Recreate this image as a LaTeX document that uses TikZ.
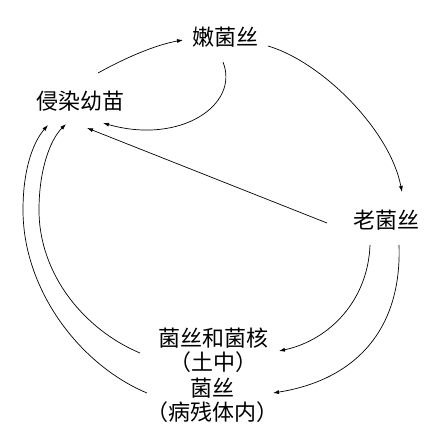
\documentclass[tikz,border=0pt]{standalone}
\usepackage{fontspec}
\newfontfamily\cjk{Noto Sans CJK SC}
\usetikzlibrary{arrows.meta,calc}
\begin{document}
\begin{tikzpicture}[x=1pt,y=-1pt,
  lbl/.style={inner sep=0pt,font=\cjk\fontsize{22}{24}\selectfont,align=center},
  conn/.style={line width=0.7pt,-{Latex[length=6pt,width=4pt]}}]
\useasboundingbox (0,0) rectangle (440,441);
\node[lbl] (qr) at (80,101) {侵染幼苗};
\node[lbl] (nj) at (225,37) {嫩菌丝};
\node[lbl] (lj) at (386,220) {老菌丝};
\node[lbl] (n1) at (213,350) {菌丝和菌核\\（土中）};
\node[lbl] (n2) at (212,400) {菌丝\\（病残体内）};
% 侵染幼苗 -> 嫩菌丝
\draw[conn] ($(qr)+(18,-28)$) .. controls (125,58) and (155,45) .. ($(nj)+(-42,3)$);
% 嫩菌丝 -> 老菌丝
\draw[conn] ($(nj)+(43,9)$) .. controls (322,62) and (390,130) .. ($(lj)+(16,-28)$);
% 嫩菌丝 -> 侵染幼苗 (loop)
\draw[conn] ($(nj)+(-2,25)$) .. controls (240,105) and (180,145) .. ($(qr)+(23,22)$);
% 老菌丝 -> 侵染幼苗
\draw[conn] ($(lj)+(-59,3)$) -- ($(qr)+(7,27)$);
% 老菌丝 -> 菌丝和菌核
\draw[conn] ($(lj)+(-16,25)$) .. controls (368,300) and (330,340) .. ($(n1)+(66,1)$);
% 老菌丝 -> 菌丝(病残体内)
\draw[conn] ($(lj)+(13,25)$) .. controls (402,330) and (355,380) .. ($(n2)+(61,-7)$);
% 菌丝和菌核 -> 侵染幼苗
\draw[conn] ($(n1)+(-73,3)$) .. controls (85,330) and (39,275) .. (39,210)
  .. controls (39,170) and (50,140) .. ($(qr)+(-14,23)$);
% 菌丝(病残体内) -> 侵染幼苗
\draw[conn] ($(n2)+(-65,-7)$) .. controls (80,365) and (23,290) .. (23,210)
  .. controls (23,165) and (35,140) .. ($(qr)+(-32,24)$);
\end{tikzpicture}
\end{document}
